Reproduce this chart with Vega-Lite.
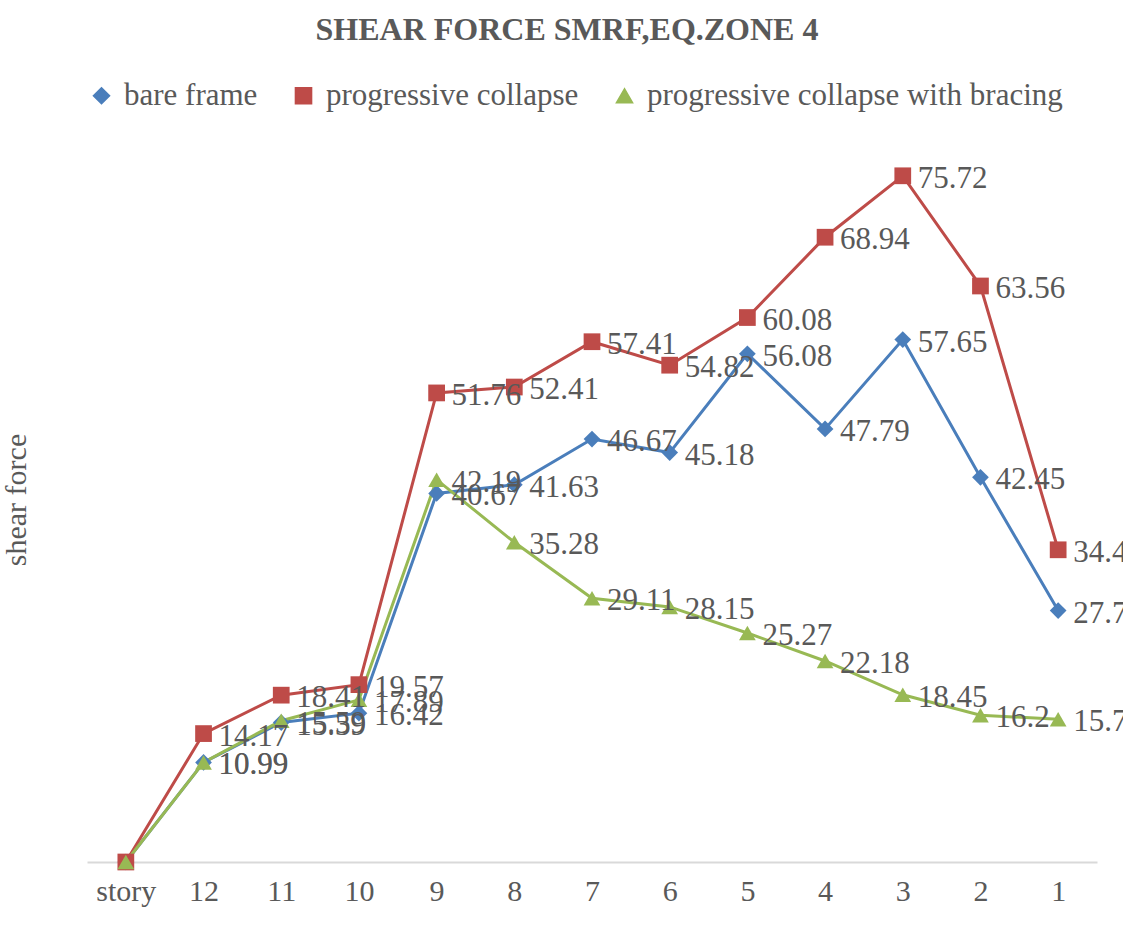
{
  "$schema": "https://vega.github.io/schema/vega-lite/v6.json",
  "width": 1010,
  "height": 725,
  "autosize": {"type": "none"},
  "padding": {"left": 87, "top": 137, "right": 26, "bottom": 71},
  "background": "white",
  "title": {
    "text": "SHEAR FORCE  SMRF,EQ.ZONE 4",
    "font": "Liberation Serif",
    "fontSize": 32,
    "fontWeight": "bold",
    "color": "#595959",
    "anchor": "middle",
    "dx": -25,
    "offset": 33
  },
  "config": {
    "view": {"stroke": null},
    "font": "Liberation Serif"
  },
  "data": {
    "values": [
      {"story": "story", "series": "bare frame", "value": 0},
      {"story": "12", "series": "bare frame", "value": 10.99},
      {"story": "11", "series": "bare frame", "value": 15.39},
      {"story": "10", "series": "bare frame", "value": 16.42},
      {"story": "9", "series": "bare frame", "value": 40.67},
      {"story": "8", "series": "bare frame", "value": 41.63},
      {"story": "7", "series": "bare frame", "value": 46.67},
      {"story": "6", "series": "bare frame", "value": 45.18},
      {"story": "5", "series": "bare frame", "value": 56.08},
      {"story": "4", "series": "bare frame", "value": 47.79},
      {"story": "3", "series": "bare frame", "value": 57.65},
      {"story": "2", "series": "bare frame", "value": 42.45},
      {"story": "1", "series": "bare frame", "value": 27.74},
      {"story": "story", "series": "progressive collapse", "value": 0},
      {"story": "12", "series": "progressive collapse", "value": 14.17},
      {"story": "11", "series": "progressive collapse", "value": 18.41},
      {"story": "10", "series": "progressive collapse", "value": 19.57},
      {"story": "9", "series": "progressive collapse", "value": 51.76},
      {"story": "8", "series": "progressive collapse", "value": 52.41},
      {"story": "7", "series": "progressive collapse", "value": 57.41},
      {"story": "6", "series": "progressive collapse", "value": 54.82},
      {"story": "5", "series": "progressive collapse", "value": 60.08},
      {"story": "4", "series": "progressive collapse", "value": 68.94},
      {"story": "3", "series": "progressive collapse", "value": 75.72},
      {"story": "2", "series": "progressive collapse", "value": 63.56},
      {"story": "1", "series": "progressive collapse", "value": 34.45},
      {"story": "story", "series": "progressive collapse with bracing", "value": 0},
      {"story": "12", "series": "progressive collapse with bracing", "value": 10.99},
      {"story": "11", "series": "progressive collapse with bracing", "value": 15.59},
      {"story": "10", "series": "progressive collapse with bracing", "value": 17.89},
      {"story": "9", "series": "progressive collapse with bracing", "value": 42.19},
      {"story": "8", "series": "progressive collapse with bracing", "value": 35.28},
      {"story": "7", "series": "progressive collapse with bracing", "value": 29.11},
      {"story": "6", "series": "progressive collapse with bracing", "value": 28.15},
      {"story": "5", "series": "progressive collapse with bracing", "value": 25.27},
      {"story": "4", "series": "progressive collapse with bracing", "value": 22.18},
      {"story": "3", "series": "progressive collapse with bracing", "value": 18.45},
      {"story": "2", "series": "progressive collapse with bracing", "value": 16.2},
      {"story": "1", "series": "progressive collapse with bracing", "value": 15.75}
    ]
  },
  "encoding": {
    "x": {
      "field": "story",
      "type": "ordinal",
      "sort": ["story", "12", "11", "10", "9", "8", "7", "6", "5", "4", "3", "2", "1"],
      "scale": {"type": "point", "padding": 0.5},
      "axis": {
        "title": null,
        "labelAngle": 0,
        "labelFont": "Liberation Serif",
        "labelFontSize": 30,
        "labelColor": "#595959",
        "labelPadding": 14,
        "ticks": false,
        "domainColor": "#d9d9d9",
        "domainWidth": 2,
        "grid": false
      }
    },
    "y": {
      "field": "value",
      "type": "quantitative",
      "scale": {"domain": [0, 80], "nice": false},
      "axis": {
        "title": "shear force",
        "labels": false,
        "ticks": false,
        "domain": false,
        "grid": false,
        "titleFont": "Liberation Serif",
        "titleFontSize": 30,
        "titleFontWeight": "normal",
        "titleColor": "#595959",
        "titlePadding": 56
      }
    },
    "color": {
      "field": "series",
      "type": "nominal",
      "sort": ["bare frame", "progressive collapse", "progressive collapse with bracing"],
      "scale": {
        "domain": ["bare frame", "progressive collapse", "progressive collapse with bracing"],
        "range": ["#4A7EBB", "#BE4B48", "#98B954"]
      },
      "legend": {
        "title": null,
        "orient": "none",
        "legendX": -1,
        "legendY": -57,
        "direction": "horizontal",
        "labelFont": "Liberation Serif",
        "labelFontSize": 31,
        "labelColor": "#595959",
        "symbolSize": 260,
        "labelOffset": 7,
        "columnPadding": 30,
        "labelLimit": 600
      }
    }
  },
  "layer": [
    {
      "mark": {"type": "line", "strokeWidth": 3},
      "encoding": {}
    },
    {
      "mark": {"type": "point", "filled": true, "size": 280, "opacity": 1},
      "encoding": {
        "shape": {
          "field": "series",
          "type": "nominal",
          "sort": ["bare frame", "progressive collapse", "progressive collapse with bracing"],
          "scale": {
            "domain": ["bare frame", "progressive collapse", "progressive collapse with bracing"],
            "range": ["diamond", "square", "triangle-up"]
          }
        }
      }
    },
    {
      "transform": [{"filter": "datum.story != 'story'"}],
      "mark": {
        "type": "text",
        "align": "left",
        "baseline": "middle",
        "dx": 15,
        "dy": 3,
        "font": "Liberation Serif",
        "fontSize": 31,
        "color": "#595959"
      },
      "encoding": {
        "text": {"field": "value", "type": "quantitative"},
        "color": {"value": "#595959"}
      }
    }
  ]
}
